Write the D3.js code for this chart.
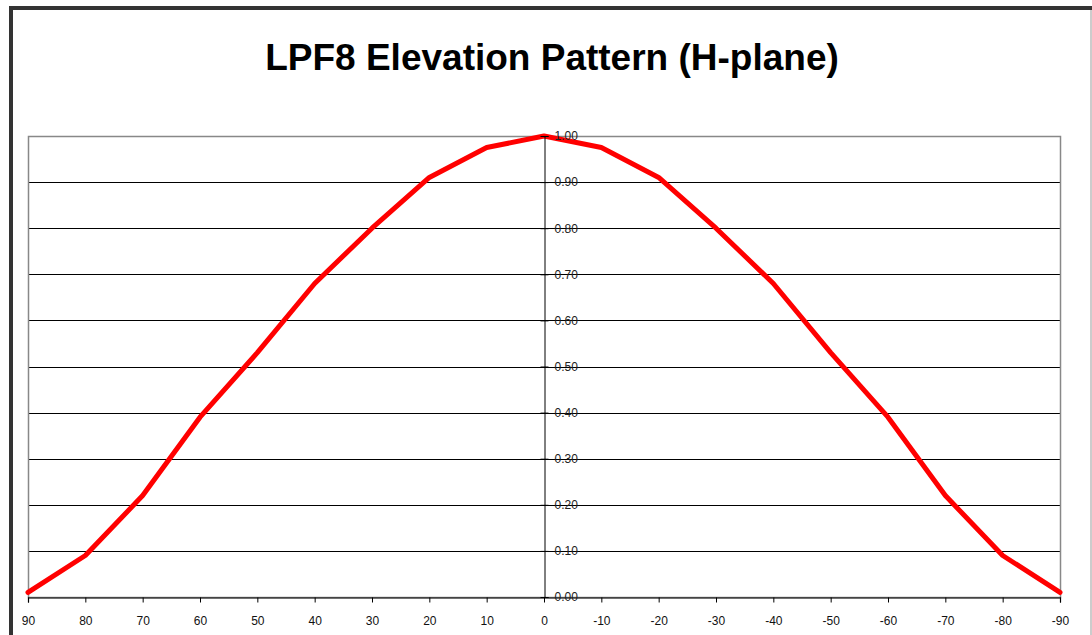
<!DOCTYPE html>
<html>
<head>
<meta charset="utf-8">
<script src="https://cdn.jsdelivr.net/npm/d3@7"></script>
<style>
  html, body { margin: 0; padding: 0; background: #fff; }
  svg { display: block; }
</style>
</head>
<body>
<svg id="chart" width="1092" height="635"></svg>
<script>
// Elevation angles (degrees) along the category axis, left to right
const angles = [90, 80, 70, 60, 50, 40, 30, 20, 10, 0, -10, -20, -30, -40, -50, -60, -70, -80, -90];
// Normalised relative field strength at each angle
const gain = [0.01, 0.09, 0.22, 0.39, 0.53, 0.68, 0.80, 0.91, 0.975, 1.00, 0.975, 0.91, 0.80, 0.68, 0.53, 0.39, 0.22, 0.09, 0.01];
const yTicks = [0, 0.1, 0.2, 0.3, 0.4, 0.5, 0.6, 0.7, 0.8, 0.9, 1.0];
const title = "LPF8 Elevation Pattern (H-plane)";

const svg = d3.select("#chart");
const W = 1092, H = 635;
const plot = { left: 28, right: 1060, top: 136, bottom: 597 };

// Chart frame
svg.append("rect").attr("x", 0).attr("y", 0).attr("width", W).attr("height", H).attr("fill", "#fff");
svg.append("line").attr("x1", 11).attr("x2", 11).attr("y1", 6).attr("y2", H).attr("stroke", "#333").attr("stroke-width", 4);
svg.append("line").attr("x1", 9).attr("x2", W).attr("y1", 8).attr("y2", 8).attr("stroke", "#333").attr("stroke-width", 4);
svg.append("line").attr("x1", 1091).attr("x2", 1091).attr("y1", 10).attr("y2", H).attr("stroke", "#999").attr("stroke-width", 1);

// Title
svg.append("text")
  .attr("x", 552).attr("y", 70)
  .attr("text-anchor", "middle")
  .attr("font-family", "Liberation Sans, Arial, sans-serif")
  .attr("font-weight", "bold")
  .attr("font-size", 37)
  .attr("fill", "#000")
  .text(title);

const x = d3.scalePoint().domain(angles).range([plot.left, plot.right]);
const y = d3.scaleLinear().domain([0, 1]).range([plot.bottom, plot.top]);

// Horizontal gridlines
svg.append("g")
  .selectAll("line")
  .data(yTicks.filter(v => v > 0 && v < 1))
  .join("line")
  .attr("x1", plot.left).attr("x2", plot.right)
  .attr("y1", d => Math.round(y(d)) + 0.5).attr("y2", d => Math.round(y(d)) + 0.5)
  .attr("stroke", "#000").attr("stroke-width", 1);

// Plot area border
svg.append("rect")
  .attr("x", plot.left + 0.5).attr("y", plot.top + 0.5)
  .attr("width", plot.right - plot.left).attr("height", plot.bottom - plot.top)
  .attr("fill", "none").attr("stroke", "#888").attr("stroke-width", 1.5);

// Category axis along the bottom
const xAxis = svg.append("g")
  .attr("transform", `translate(0,${Math.round(plot.bottom) + 0.5})`)
  .call(d3.axisBottom(x).tickSize(5).tickPadding(14).tickFormat(d => d < 0 ? "-" + Math.abs(d) : String(d)));
xAxis.select(".domain").attr("stroke", "#000").attr("stroke-width", 1.2);
xAxis.selectAll(".tick line").attr("stroke", "#000");
xAxis.selectAll(".tick text")
  .attr("font-family", "Liberation Sans, Arial, sans-serif")
  .attr("font-size", 12)
  .attr("fill", "#111");

// Value axis crossing at 0 degrees, labels to its right
const yAxis = svg.append("g")
  .attr("transform", `translate(${Math.round(x(0)) + 0.5},0)`)
  .call(d3.axisRight(y).tickValues(yTicks).tickSize(4).tickPadding(6).tickFormat(d3.format(".2f")));
yAxis.select(".domain").attr("stroke", "#000").attr("stroke-width", 1);
yAxis.selectAll(".tick line").attr("x1", -4).attr("stroke", "#000");
yAxis.selectAll(".tick text")
  .attr("font-family", "Liberation Sans, Arial, sans-serif")
  .attr("font-size", 12)
  .attr("fill", "#222");

// Pattern line
const line = d3.line()
  .x((d, i) => x(angles[i]))
  .y(d => y(d));
svg.append("path")
  .datum(gain)
  .attr("d", line)
  .attr("fill", "none")
  .attr("stroke", "#ff0000")
  .attr("stroke-width", 5)
  .attr("stroke-linejoin", "round")
  .attr("stroke-linecap", "round");

// Labels sit above the gridlines and the series
yAxis.raise();
</script>
</body>
</html>
